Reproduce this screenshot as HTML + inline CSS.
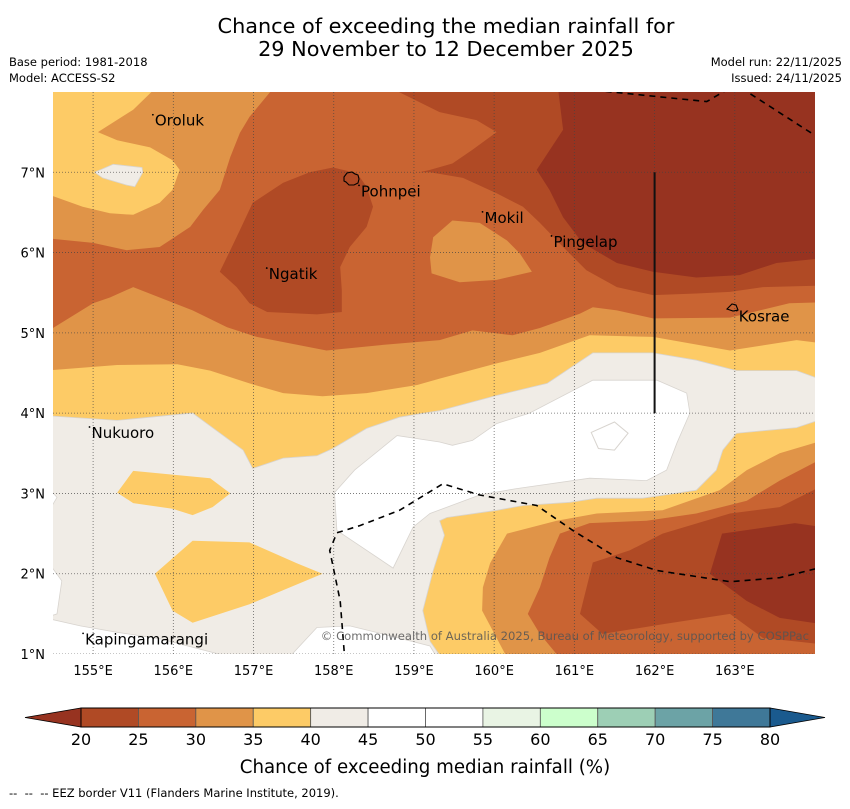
<!DOCTYPE html>
<html><head><meta charset="utf-8">
<style>
html,body{margin:0;padding:0;background:#fff;}
body{width:850px;height:804px;overflow:hidden;font-family:"Liberation Sans","DejaVu Sans",sans-serif;}
svg text{font-family:"DejaVu Sans","Liberation Sans",sans-serif;}
</style></head>
<body>
<svg id="chart" width="850" height="804" viewBox="0 0 850 804" xmlns="http://www.w3.org/2000/svg">
<defs><clipPath id="mapclip"><rect x="53" y="92" width="762" height="562"/></clipPath></defs>
<text x="446" y="33" font-size="20.8" text-anchor="middle">Chance of exceeding the median rainfall for</text>
<text x="446" y="56" font-size="20.8" text-anchor="middle">29 November to 12 December 2025</text>
<text x="9" y="66" font-size="11.5">Base period: 1981-2018</text>
<text x="9" y="82" font-size="11.5">Model: ACCESS-S2</text>
<text x="842" y="66" font-size="11.5" text-anchor="end">Model run: 22/11/2025</text>
<text x="842" y="82" font-size="11.5" text-anchor="end">Issued: 24/11/2025</text>
<g id="map" clip-path="url(#mapclip)"></g>
<g id="overlay"></g>
<g id="axes"></g>
<g id="cbar"></g>
<text x="425" y="773" font-size="18.2" text-anchor="middle">Chance of exceeding median rainfall (%)</text>
<text x="9" y="797" font-size="11.5" xml:space="preserve" style="white-space:pre">--  --  -- EEZ border V11 (Flanders Marine Institute, 2019).</text>
</svg>
<script>
// ---- data (lon/lat) ----
const lonTicks = [155,156,157,158,159,160,161,162,163];
const latTicks = [1,2,3,4,5,6,7];
const cbLevels = [20,25,30,35,40,45,50,55,60,65,70,75,80];
const cbColors = ["#b04a25","#c96432","#e09448","#fdcb66","#f0ece6","#ffffff","#ffffff","#e9f4e4","#ccffcc","#9dcfb5","#6ca3a6","#3f7898"];
const cbLowColor = "#973320";
const cbHighColor = "#1a5a8e";

const orangeBottom = [[154.4,5.00],[155.0,5.37],[155.21,5.44],[155.5,5.57],[155.83,5.44],[156.24,5.28],[156.67,5.07],[157.04,4.95],[157.91,4.78],[158.61,4.85],[159.32,4.91],[159.73,5.03],[160.23,4.97],[160.57,5.06],[161.07,5.24],[161.23,5.32],[161.53,5.28],[161.98,5.18],[162.94,5.19],[163.68,5.37],[164.1,5.38],[164.1,0.9],[154.4,0.9]];
const orangeTop = [[154.4,8.1],[157.29,8.1],[156.95,7.69],[156.83,7.49],[156.71,7.19],[156.58,6.78],[156.37,6.53],[156.21,6.32],[155.83,6.07],[155.42,6.03],[155.0,6.12],[154.4,6.18]];
const yellowTop = [[154.4,8.1],[155.83,8.1],[155.5,7.78],[155.06,7.50],[155.30,7.40],[155.71,7.31],[155.99,7.15],[156.08,7.03],[155.99,6.78],[155.83,6.62],[155.5,6.47],[155.21,6.49],[154.87,6.57],[154.4,6.74]];
const greyTopIsland = [[155.02,7.00],[155.25,7.10],[155.61,7.06],[155.62,7.00],[155.52,6.82],[155.42,6.84],[155.12,6.93]];
const yellowBottom = [[154.4,4.53],[155.30,4.60],[156.05,4.61],[156.46,4.53],[156.95,4.37],[157.37,4.25],[157.86,4.21],[158.41,4.25],[159.04,4.35],[159.32,4.43],[160.03,4.62],[160.57,4.75],[161.19,4.97],[161.98,4.95],[162.94,4.78],[163.77,4.91],[164.1,4.87],[164.1,0.9],[154.4,0.9]];
const greyBottom = [[154.4,3.97],[155.30,3.91],[156.24,4.00],[156.87,3.54],[156.99,3.31],[157.37,3.44],[157.79,3.47],[157.99,3.56],[158.41,3.81],[158.82,3.95],[159.32,4.03],[160.03,4.22],[160.66,4.37],[161.23,4.75],[161.98,4.75],[162.52,4.66],[163.02,4.53],[163.77,4.53],[164.1,4.41],[164.1,3.93],[163.77,3.82],[163.02,3.75],[162.85,3.54],[162.77,3.29],[162.52,3.04],[161.85,2.94],[161.28,2.94],[160.94,2.89],[160.36,2.85],[160.03,2.79],[159.41,2.70],[159.32,2.66],[159.38,2.48],[159.24,2.04],[159.11,1.54],[159.20,1.16],[159.38,0.9],[154.4,0.9]];
const whiteMain = [[158.01,3.01],[158.26,3.29],[158.79,3.72],[159.32,3.64],[159.48,3.60],[159.73,3.66],[160.03,3.87],[160.44,4.00],[161.23,4.41],[162.03,4.41],[162.40,4.25],[162.44,4.00],[162.28,3.63],[162.15,3.29],[161.90,3.16],[161.19,3.19],[160.28,3.06],[159.82,2.98],[159.20,2.75],[158.99,2.58],[158.74,2.07],[158.04,2.54]];
const whiteBottom = [[157.39,0.9],[157.79,1.33],[158.20,1.35],[158.61,1.25],[159.20,1.10],[159.32,0.9]];
const whiteBottomLeft = [[154.4,1.45],[154.84,1.35],[155.30,1.27],[155.83,1.19],[156.95,0.9],[154.4,0.9]];
const whiteLeft1 = [[154.4,3.12],[154.55,2.95],[154.4,2.70]];
const whiteLeft2 = [[154.4,2.20],[154.61,1.91],[154.55,1.50],[154.4,1.45]];
const yellowIsland1 = [[155.30,3.01],[155.50,3.28],[156.46,3.19],[156.71,3.00],[156.49,2.83],[156.24,2.73],[155.99,2.81],[155.50,2.88]];
const yellowIsland2 = [[155.77,2.00],[156.24,2.41],[156.95,2.39],[157.54,2.13],[157.86,2.00],[156.95,1.62],[156.24,1.39],[155.99,1.54]];
const orangeSE = [[164.1,3.66],[163.56,3.50],[163.15,3.29],[162.81,3.04],[162.10,2.79],[161.28,2.75],[160.78,2.66],[160.16,2.50],[159.95,2.13],[159.86,1.83],[159.85,1.54],[160.03,1.20],[160.19,0.9],[164.1,0.9]];
const midSE = [[164.1,3.44],[163.56,3.16],[163.15,2.91],[162.52,2.75],[161.90,2.66],[161.19,2.63],[160.82,2.50],[160.69,2.20],[160.57,1.83],[160.42,1.50],[160.57,1.25],[160.86,0.9],[164.1,0.9]];
const darkSE = [[164.1,3.10],[163.56,2.83],[162.94,2.75],[162.10,2.50],[161.69,2.29],[161.23,2.14],[161.07,1.50],[161.35,1.25],[162.10,1.37],[162.94,1.50],[163.35,1.20],[164.1,1.12]];
const darkestSE = [[162.84,2.50],[163.75,2.63],[164.1,2.58],[164.1,1.37],[163.56,1.45],[163.15,1.66],[162.69,2.00]];
const darkNgatik = [[157.99,7.06],[158.29,6.99],[158.41,6.82],[158.49,6.57],[158.41,6.32],[158.20,6.07],[158.08,5.82],[158.10,5.53],[158.10,5.26],[157.79,5.23],[157.17,5.26],[156.95,5.37],[156.79,5.57],[156.58,5.76],[156.71,6.03],[156.83,6.28],[156.99,6.62],[157.37,6.87],[157.70,7.00]];
const darkNE = [[158.61,8.1],[164.1,8.1],[164.1,5.59],[163.35,5.57],[162.94,5.51],[162.52,5.49],[161.98,5.47],[161.53,5.57],[161.15,5.78],[160.86,6.07],[160.57,6.37],[160.36,6.57],[160.03,6.74],[159.61,6.93],[159.20,7.00],[159.07,7.00],[159.20,7.03],[159.48,7.11],[159.73,7.28],[160.03,7.50],[159.78,7.65],[159.32,7.75]];
const darkestNE = [[160.79,8.1],[164.1,8.1],[164.1,5.93],[163.52,5.87],[163.06,5.72],[162.52,5.69],[161.98,5.76],[161.53,5.87],[161.10,6.12],[160.86,6.44],[160.69,6.78],[160.53,7.03],[160.86,7.53]];
const orangeMokil = [[159.24,6.19],[159.48,6.40],[159.82,6.37],[160.16,6.15],[160.32,5.99],[160.47,5.76],[160.03,5.66],[159.57,5.63],[159.22,5.74],[159.20,5.94]];
const whiteOutline = [[161.21,3.76],[161.5,3.89],[161.67,3.75],[161.5,3.54],[161.3,3.56]];

const eezTop1 = [[160.98,8.05],[162.65,7.88],[162.94,8.05]];
const eezTop2 = [[163.08,8.05],[164.0,7.46]];
const eezBottom = [[158.14,0.9],[158.08,1.66],[157.99,2.10],[157.95,2.29],[158.04,2.51],[158.33,2.60],[158.82,2.79],[159.36,3.12],[159.82,2.98],[160.53,2.85],[160.98,2.54],[161.53,2.20],[162.03,2.04],[162.94,1.90],[163.56,1.95],[164.0,2.06]];
const solidLine = [[162,7],[162,4]];

const placeNames = ["Oroluk","Pohnpei","Mokil","Pingelap","Ngatik","Kosrae","Nukuoro","Kapingamarangi"];
const placeLons = [155.77,158.34,159.88,160.74,157.19,163.05,154.98,154.90];
const placeLats = [7.58,6.70,6.37,6.07,5.67,5.14,3.69,1.12];

// ---- axes functions ----
const X0=53, X1=815, LON0=154.5, LON1=164.0, Y0=654, Y1=92, LAT0=1.0, LAT1=8.0;
function xs(lon){return X0+(lon-LON0)*(X1-X0)/(LON1-LON0);}
function ys(lat){return Y0-(lat-LAT0)*(Y0-Y1)/(LAT1-LAT0);}
const NS="http://www.w3.org/2000/svg";
function mk(tag,attrs,parent){const e=document.createElementNS(NS,tag);for(const k in attrs)e.setAttribute(k,attrs[k]);parent.appendChild(e);return e;}
function pts(a){return a.map(p=>xs(p[0]).toFixed(1)+","+ys(p[1]).toFixed(1)).join(" ");}

const map=document.getElementById("map");
const base=mk("rect",{x:53,y:92,width:762,height:562,fill:"#c96432"},map);


const layers=[
 [orangeBottom,"#e09448","contour-30-35-south"],
 [orangeTop,"#e09448","contour-30-35-northwest"],
 [yellowTop,"#fdcb66","contour-35-40-northwest"],
 [greyTopIsland,"#f0ece6","contour-40-45-northwest"],
 [yellowBottom,"#fdcb66","contour-35-40-south"],
 [greyBottom,"#f0ece6","contour-40-45-south"],
 [whiteMain,"#ffffff","contour-45-55-central"],
 [whiteBottom,"#ffffff","contour-45-55-bottom"],
 [whiteBottomLeft,"#ffffff","contour-45-55-southwest"],
 [whiteLeft1,"#ffffff","contour-45-55-west-1"],
 [whiteLeft2,"#ffffff","contour-45-55-west-2"],
 [yellowIsland1,"#fdcb66","contour-35-40-island-1"],
 [yellowIsland2,"#fdcb66","contour-35-40-island-2"],
 [orangeSE,"#e09448","contour-30-35-southeast"],
 [midSE,"#c96432","contour-25-30-southeast"],
 [darkSE,"#b04a25","contour-20-25-southeast"],
 [darkestSE,"#973320","contour-below-20-southeast"],
 [darkNgatik,"#b04a25","contour-20-25-ngatik"],
 [darkNE,"#b04a25","contour-20-25-northeast"],
 [darkestNE,"#973320","contour-below-20-northeast"],
 [orangeMokil,"#e09448","contour-30-35-mokil"]
];
layers.forEach(l=>{
 const p=mk("polygon",{points:pts(l[0]),fill:l[1],stroke:l[1]==="#ffffff"||l[1]==="#f0ece6"?"#d8d4cf":"none","stroke-width":0.8},map);
 
 
});
const wo=mk("polygon",{points:pts(whiteOutline),fill:"none",stroke:"#d8d4cf","stroke-width":1},map);



// gridlines
lonTicks.forEach(v=>{
 const g=mk("line",{x1:xs(v),x2:xs(v),y1:92,y2:654,stroke:"#444","stroke-width":0.8,"stroke-dasharray":"1,2","stroke-opacity":0.8},map);
 
 
});
latTicks.forEach(v=>{
 const g=mk("line",{x1:53,x2:815,y1:ys(v),y2:ys(v),stroke:"#444","stroke-width":0.8,"stroke-dasharray":"1,2","stroke-opacity":0.8},map);
 
 
});

// EEZ lines
[eezTop1,eezTop2,eezBottom].forEach(l=>{
 const e=mk("polyline",{points:pts(l),fill:"none",stroke:"#000","stroke-width":1.6,"stroke-dasharray":"6,5"},map);
 
 
});
const sl=mk("polyline",{points:pts(solidLine),fill:"none",stroke:"#111","stroke-width":2},map);



// islands outlines
const ov=document.getElementById("overlay");
const pohn=mk("path",{d:"M344,177 l3,-4 l5,-1 l3,2 l3,1 l1,4 l-1,4 l-4,2 l-5,0 l-3,-3 l-2,-1z",fill:"none",stroke:"#000","stroke-width":1.1},ov);


const kos=mk("path",{d:"M727,309 l5,-5 l4,1 l2,5 l-5,1z",fill:"none",stroke:"#000","stroke-width":1.1},ov);



// place labels
placeNames.forEach((n,i)=>{
 const x=xs(placeLons[i]), y=ys(placeLats[i]);
 const d=mk("circle",{cx:x-2,cy:y-11,r:0.9,fill:"#000"},ov);
 
 
 const t=mk("text",{x:x,y:y,"font-size":15,fill:"#000"},ov);
 t.textContent=n;
 
 
});
const cp=mk("text",{x:809,y:640,"font-size":11.6,"text-anchor":"end",fill:"#555","fill-opacity":0.85},ov);
cp.textContent="© Commonwealth of Australia 2025, Bureau of Meteorology, supported by COSPPac";



// axis tick labels
const ax=document.getElementById("axes");
lonTicks.forEach(v=>{
 const t=mk("text",{x:xs(v),y:675,"font-size":13,"text-anchor":"middle"},ax);
 t.textContent=v+"°E";
 
 
});
latTicks.forEach(v=>{
 const t=mk("text",{x:45,y:ys(v)+5,"font-size":13,"text-anchor":"end"},ax);
 t.textContent=v+"°N";
 
 
});

// colorbar
const cb=document.getElementById("cbar");
const CB0=81, CB1=770, CBY=708, CBH=19;
function cx(v){return CB0+(v-cbLevels[0])*(CB1-CB0)/(cbLevels[cbLevels.length-1]-cbLevels[0]);}
const lt=mk("polygon",{points:`${CB0},${CBY} ${CB0},${CBY+CBH} 25,${CBY+CBH/2}`,fill:cbLowColor,stroke:"#000","stroke-width":0.8},cb);


const rt=mk("polygon",{points:`${CB1},${CBY} ${CB1},${CBY+CBH} 825,${CBY+CBH/2}`,fill:cbHighColor,stroke:"#000","stroke-width":0.8},cb);


cbColors.forEach((c,i)=>{
 const r=mk("rect",{x:cx(cbLevels[i]),y:CBY,width:cx(cbLevels[i+1])-cx(cbLevels[i]),height:CBH,fill:c,stroke:"#555","stroke-width":0.8},cb);
 
 
});
const fr=mk("rect",{x:CB0,y:CBY,width:CB1-CB0,height:CBH,fill:"none",stroke:"#000","stroke-width":1},cb);


cbLevels.forEach(v=>{
 const t=mk("text",{x:cx(v),y:745,"font-size":16,"text-anchor":"middle"},cb);
 t.textContent=v;
 
 
});
</script>
</body></html>
